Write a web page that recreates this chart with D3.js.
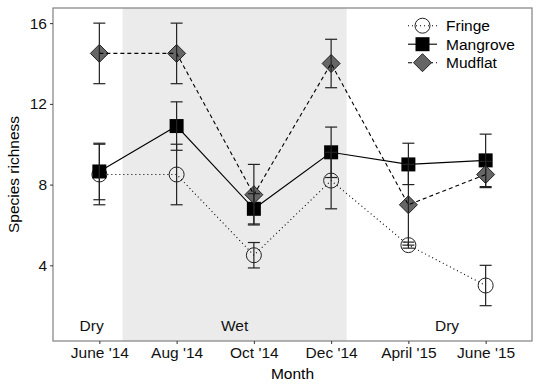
<!DOCTYPE html>
<html>
<head>
<meta charset="utf-8">
<script src="https://cdn.jsdelivr.net/npm/d3@7"></script>
<style>
  body { margin: 0; background: #fff; }
  text { font-family: "Liberation Sans", Arial, sans-serif; }
</style>
</head>
<body>
<svg id="chart" width="540" height="386"></svg>
<script>
// months on the x axis
const months = ["June '14", "Aug '14", "Oct '14", "Dec '14", "April '15", "June '15"];

// mean species richness and error bar limits, per habitat
const fringe    = [8.5, 8.5, 4.5, 8.2, 5.0, 3.0];
const fringeLo  = [7.0, 7.0, 3.87, 6.8, 4.85, 2.0];
const fringeHi  = [10.0, 10.0, 5.13, 9.6, 5.15, 4.0];

const mangrove   = [8.65, 10.9, 6.8, 9.6, 9.0, 9.2];
const mangroveLo = [7.25, 9.7, 6.05, 8.35, 8.0, 7.9];
const mangroveHi = [10.05, 12.1, 7.55, 10.85, 10.05, 10.5];

const mudflat   = [14.5, 14.5, 7.5, 14.0, 7.0, 8.5];
const mudflatLo = [13.0, 13.0, 6.0, 12.8, 5.0, 7.85];
const mudflatHi = [16.0, 16.0, 9.0, 15.2, 9.0, 9.15];

const yTicks = [4, 8, 12, 16];

// seasons: shaded wet period and labels
const wetSpan = [1.3, 4.2];
const seasonLabels = [
  { text: "Dry", x: 0.9, y: 1 },
  { text: "Wet", x: 2.75, y: 1 },
  { text: "Dry", x: 5.5, y: 1 }
];

const series = [
  { name: "Fringe",   mean: fringe,   lo: fringeLo,   hi: fringeHi,   shape: "circle",  dash: "1,3" },
  { name: "Mangrove", mean: mangrove, lo: mangroveLo, hi: mangroveHi, shape: "square",  dash: null },
  { name: "Mudflat",  mean: mudflat,  lo: mudflatLo,  hi: mudflatHi,  shape: "diamond", dash: "4,3" }
];

const svg = d3.select('#chart');
const panel = { left: 53, right: 532, top: 8, bottom: 341 };

const x = d3.scaleLinear().domain([0.4, 6.6]).range([panel.left, panel.right]);
const y = d3.scaleLinear().domain([0.25, 16.75]).range([panel.bottom, panel.top]);

// wet season band
svg.append('rect')
  .attr('x', x(wetSpan[0]))
  .attr('y', panel.top)
  .attr('width', x(wetSpan[1]) - x(wetSpan[0]))
  .attr('height', panel.bottom - panel.top)
  .attr('fill', '#ebebeb');

svg.selectAll('.season')
  .data(seasonLabels)
  .join('text')
  .attr('x', d => x(d.x))
  .attr('y', d => y(d.y))
  .attr('dy', '0.35em')
  .attr('text-anchor', 'middle')
  .attr('font-size', 15.5)
  .attr('fill', '#111')
  .text(d => d.text);

// draw a marker shape at a point
function drawMarker(g, shape, cx, cy) {
  if (shape === 'circle') {
    g.append('circle').attr('cx', cx).attr('cy', cy).attr('r', 7.5)
      .attr('fill', 'none').attr('stroke', '#222').attr('stroke-width', 1);
  } else if (shape === 'square') {
    g.append('rect').attr('x', cx - 7).attr('y', cy - 7).attr('width', 14).attr('height', 14)
      .attr('fill', '#000');
  } else {
    const r = 9;
    g.append('path')
      .attr('d', `M${cx},${cy - r}L${cx + r},${cy}L${cx},${cy + r}L${cx - r},${cy}Z`)
      .attr('fill', '#666').attr('stroke', '#222').attr('stroke-width', 1);
  }
}

const idx = d3.range(1, months.length + 1);

// points
series.forEach(s => {
  const g = svg.append('g');
  idx.forEach((i, k) => drawMarker(g, s.shape, x(i), y(s.mean[k])));
});

// connecting lines
const line = d3.line().x((d, k) => x(k + 1)).y(d => y(d));
series.forEach(s => {
  svg.append('path')
    .attr('d', line(s.mean))
    .attr('fill', 'none')
    .attr('stroke', '#000')
    .attr('stroke-width', 1.1)
    .attr('stroke-dasharray', s.dash);
});

// error bars
series.forEach(s => {
  const g = svg.append('g').attr('stroke', '#222').attr('stroke-width', 1.2);
  idx.forEach((i, k) => {
    const cx = x(i);
    g.append('line').attr('x1', cx).attr('x2', cx).attr('y1', y(s.lo[k])).attr('y2', y(s.hi[k]));
    g.append('line').attr('x1', cx - 6).attr('x2', cx + 6).attr('y1', y(s.lo[k])).attr('y2', y(s.lo[k]));
    g.append('line').attr('x1', cx - 6).attr('x2', cx + 6).attr('y1', y(s.hi[k])).attr('y2', y(s.hi[k]));
  });
});

// panel border
svg.append('rect')
  .attr('x', panel.left).attr('y', panel.top)
  .attr('width', panel.right - panel.left).attr('height', panel.bottom - panel.top)
  .attr('fill', 'none').attr('stroke', '#808080').attr('stroke-width', 1.2);

// axes
const xAxis = svg.append('g')
  .attr('transform', `translate(0,${panel.bottom})`)
  .call(d3.axisBottom(x).tickValues(idx).tickFormat(i => months[i - 1]).tickSize(3).tickPadding(3));
const yAxis = svg.append('g')
  .attr('transform', `translate(${panel.left},0)`)
  .call(d3.axisLeft(y).tickValues(yTicks).tickSize(3).tickPadding(3));

[xAxis, yAxis].forEach(a => {
  a.select('.domain').remove();
  a.selectAll('.tick line').attr('stroke', '#333');
  a.selectAll('.tick text').attr('font-size', 15.5).attr('fill', '#111')
    .attr('font-family', '"Liberation Sans", Arial, sans-serif');
});

svg.append('text')
  .attr('x', (panel.left + panel.right) / 2)
  .attr('y', 379)
  .attr('text-anchor', 'middle')
  .attr('font-size', 15.5)
  .text('Month');

svg.append('text')
  .attr('transform', `translate(19,${(panel.top + panel.bottom) / 2}) rotate(-90)`)
  .attr('text-anchor', 'middle')
  .attr('font-size', 15.5)
  .text('Species richness');

// legend
const legend = svg.append('g');
series.forEach((s, k) => {
  const ly = 25.7 + k * 18.5;
  legend.append('line')
    .attr('x1', 408).attr('x2', 437).attr('y1', ly).attr('y2', ly)
    .attr('stroke', '#000').attr('stroke-width', 1.1)
    .attr('stroke-dasharray', s.dash);
  drawMarker(legend, s.shape, 422.5, ly);
  legend.append('text')
    .attr('x', 446).attr('y', ly).attr('dy', '0.35em')
    .attr('font-size', 15.5)
    .text(s.name);
});
</script>
</body>
</html>
